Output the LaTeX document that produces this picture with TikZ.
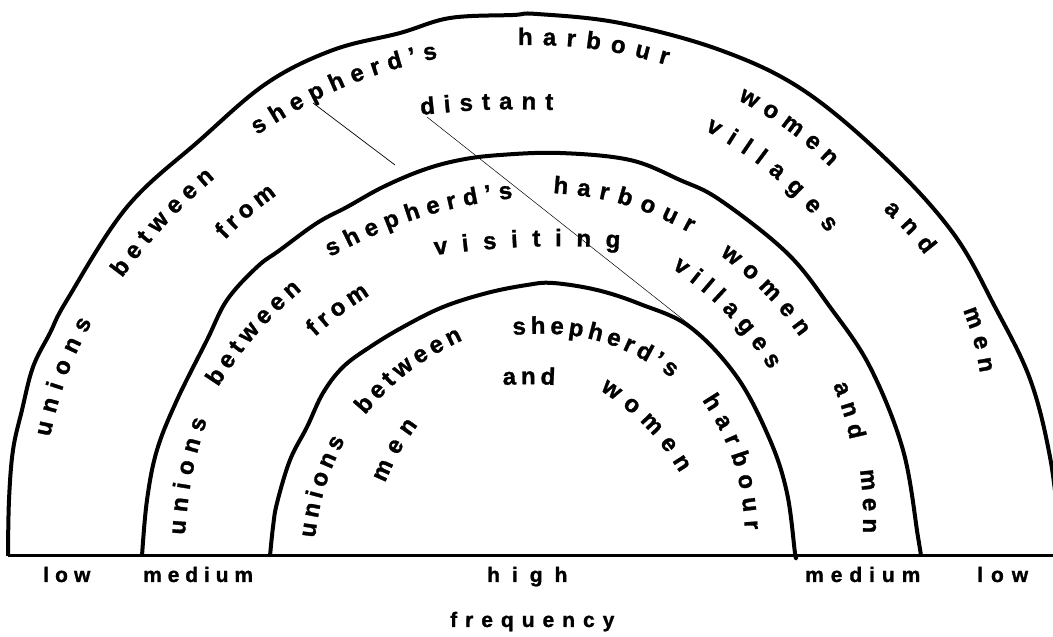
\documentclass[tikz,border=0pt]{standalone}
\usepackage{fontspec}
\setmainfont{Liberation Sans}
\usetikzlibrary{decorations.text}

\newcommand{\arcfont}{\fontsize{24}{24}\selectfont\bfseries\addfontfeature{FakeBold=1.2}}
% one word set along a short bent stretch of its band
\newcommand{\arcword}[4]{%
  \path[decorate, decoration={text along path, text={|\arcfont|#4}, text align={fit to path}}]
    (#1) to[bend left=#3] (#2);}

\begin{document}
\begin{tikzpicture}[
  x=1pt, y=1pt,
  arch/.style={line width=4pt, line join=round},
  axis/.style={line width=3pt},
  stroke/.style={line width=0.7pt},
  lab/.style={anchor=base west, inner sep=0pt,
    font=\fontsize{21}{21}\selectfont\bfseries\addfontfeature{FakeBold=1.2,LetterSpace=#1}},
  lab/.default=30
]
\fill[white] (0,0) rectangle (1053,637);
\clip (0,0) rectangle (1053,637);
\useasboundingbox (0,0) rectangle (1053,637);

% arches
\draw[arch] plot[smooth, tension=0.6] coordinates {(8,81) (9,137) (13,187) (22,227) (33,270) (50,304) (67,337)
  (127,430) (200,497) (267,554) (333,587) (400,604) (450,619) (513,622) (537,623) (620,614) (720,587)
  (803,547) (887,477) (953,404) (995,330) (1030,258) (1050,180) (1060,100) (1062,81)};
\draw[arch] plot[smooth, tension=0.6] coordinates {(142,81) (147,137) (157,187) (177,237) (207,297) (227,337)
  (257,370) (280,387) (317,414) (347,430) (383,450) (423,467) (460,477) (500,482) (560,484) (630,477)
  (680,457) (720,437) (787,384) (830,330) (870,270) (903,187) (918,100) (921,81)};
\draw[arch] plot[smooth, tension=0.6] coordinates {(270,81) (273,110) (277,134) (290,177) (307,210) (323,244)
  (343,270) (370,290) (403,310) (443,330) (487,344) (527,352) (553,354) (597,347) (640,333) (690,310)
  (737,260) (770,197) (787,144) (795,84) (796,81)};
\draw[axis] (8,81) -- (1053,81);

% pen strokes
\draw[stroke] (313,534) -- (395,472);
\draw[stroke, line width=0.5pt] (427,520) -- (690,312);

% outer band
\arcword{50,200}{92,315}{8}{unions}
\arcword{122,359}{215,459}{6}{between}
\arcword{257,502}{438,579}{10}{shepherd's}
\arcword{518,592}{667,572}{8}{harbour}
\arcword{738,537}{830,470}{8}{women}
\arcword{883,427}{925,382}{5}{and}
\arcword{963,327}{980,264}{6}{men}
\arcword{225,397}{277,442}{5}{from}
\arcword{421,522}{553,527}{4}{distant}
\arcword{705,507}{828,404}{10}{villages}

% middle band
\arcword{185,102}{207,217}{7}{unions}
\arcword{218,250}{302,347}{8}{between}
\arcword{330,380}{513,439}{10}{shepherd's}
\arcword{553,444}{690,404}{12}{harbour}
\arcword{720,382}{800,300}{8}{women}
\arcword{833,252}{850,197}{5}{and}
\arcword{860,167}{863,104}{4}{men}
\arcword{315,300}{370,342}{5}{from}
\arcword{435,382}{620,389}{5}{visiting}
\arcword{672,369}{770,267}{10}{villages}

% inner band
\arcword{315,99}{345,197}{10}{unions}
\arcword{365,222}{463,297}{12}{between}
\arcword{513,302}{672,259}{20}{shepherd's}
\arcword{702,237}{745,107}{15}{harbour}
\arcword{385,154}{418,212}{7}{men}
\arcword{503,252}{555,252}{3}{and}
\arcword{600,247}{680,164}{12}{women}

% scale below the base line
\node[lab=29] (lowleft) at (43,55) {low};
\node[lab=28] (medleft) at (143,55) {medium};
\node[lab=57] (high) at (487,55) {high};
\node[lab=33] (medright) at (805,55) {medium};
\node[lab=38] (lowright) at (977,55) {low};
\node[lab=38] (freq) at (450,10) {frequency};
\end{tikzpicture}
\end{document}
